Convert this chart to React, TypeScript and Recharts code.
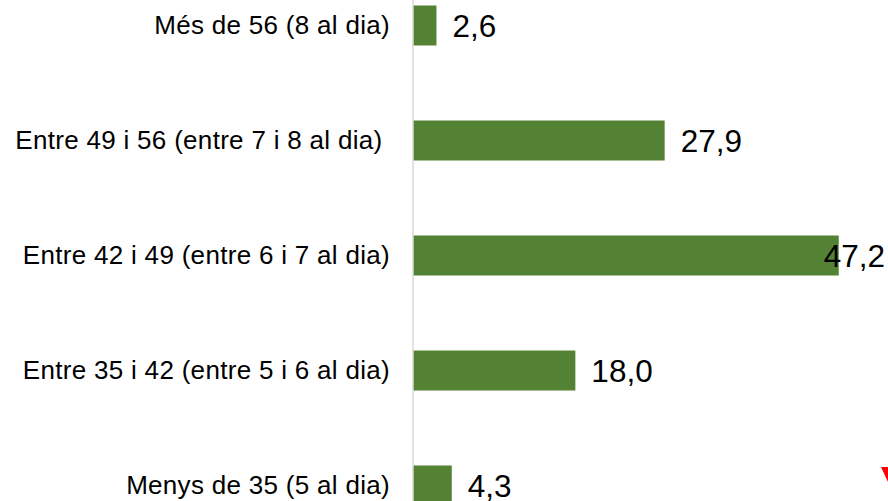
import React from "react";
import { BarChart, Bar, XAxis, YAxis, LabelList } from "recharts";

const categories = [
  "Més de 56 (8 al dia)",
  "Entre 49 i 56 (entre 7 i 8 al dia)\u00a0",
  "Entre 42 i 49 (entre 6 i 7 al dia)",
  "Entre 35 i 42 (entre 5 i 6 al dia)",
  "Menys de 35 (5 al dia)",
];
const values = [2.6, 27.9, 47.2, 18.0, 4.3];

const data = categories.map((name, i) => ({ name, value: values[i] }));

const FONT = '"Liberation Sans", Arial, sans-serif';
const CHART_W = 888;

const ValueLabel = (props: any) => {
  const { x, y, width, height, value } = props;
  const text = Number(value).toFixed(1).replace(".", ",");
  const approxW = text.length * 15.5;
  let tx = x + width + 16;
  let anchor: "start" | "end" = "start";
  if (tx + approxW > CHART_W - 3) {
    tx = CHART_W - 3;
    anchor = "end";
  }
  return (
    <text
      x={tx}
      y={y + height / 2}
      textAnchor={anchor}
      dominantBaseline="central"
      fontFamily={FONT}
      fontSize={31.5}
      fill="#000"
    >
      {text}
    </text>
  );
};

export default function App() {
  return (
    <div
      style={{
        position: "absolute",
        left: 0,
        top: 0,
        width: 888,
        height: 501,
        overflow: "hidden",
        background: "#fff",
      }}
    >
      <div style={{ position: "absolute", left: 0, top: -40 }}>
        <BarChart
          width={888}
          height={600}
          data={data}
          layout="vertical"
          margin={{ top: 7.5, bottom: 17.5, left: 0, right: 24 }}
          barCategoryGap={0}
        >
          <XAxis type="number" domain={[0, 50]} hide />
          <YAxis
            type="category"
            dataKey="name"
            width={413}
            axisLine={{ stroke: "#d9d9d9", strokeWidth: 1.5 }}
            tickLine={false}
            tickSize={6}
            tickMargin={17}
            interval={0}
            tick={{ fontFamily: FONT, fontSize: 26, letterSpacing: 0.3, fill: "#000" }}
          />
          <Bar dataKey="value" fill="#548235" barSize={40} isAnimationActive={false}>
            <LabelList dataKey="value" content={<ValueLabel />} />
          </Bar>
        </BarChart>
      </div>
      <svg
        style={{ position: "absolute", left: 0, top: 0 }}
        width={888}
        height={501}
      >
        <polygon points="881,467 895,467 888,482" fill="#ff0000" />
      </svg>
    </div>
  );
}
